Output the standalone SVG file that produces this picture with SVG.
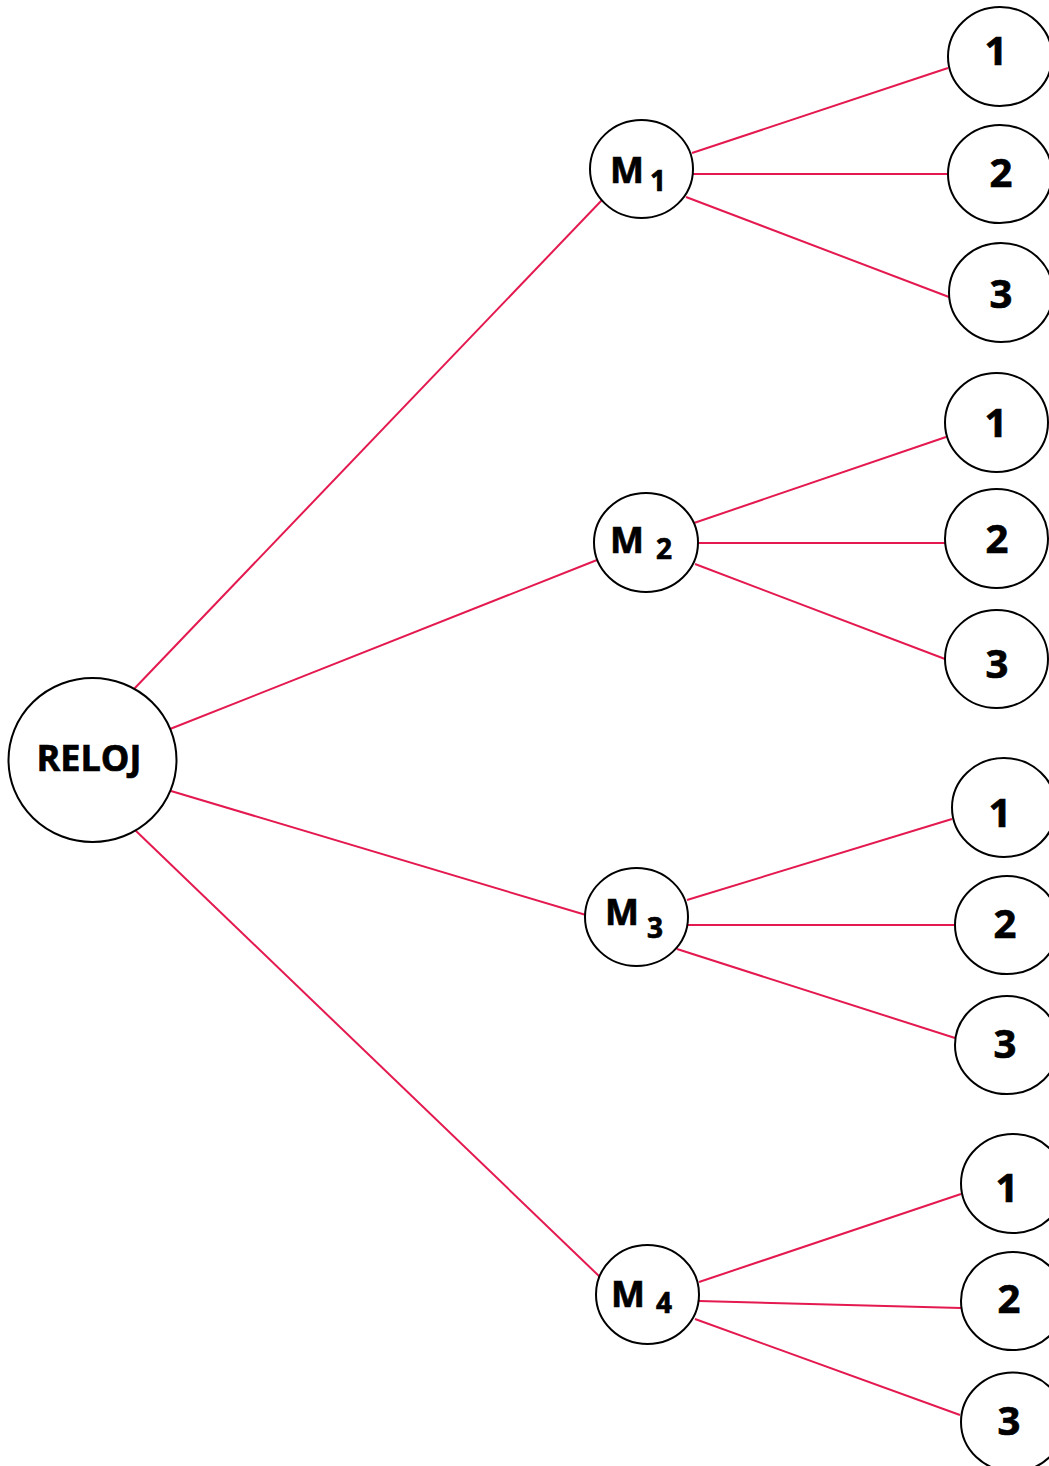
<svg xmlns="http://www.w3.org/2000/svg" width="1049" height="1466" viewBox="0 0 1049 1466">
<style>
.n{fill:#fff;stroke:#000;stroke-width:2}
.t{font-family:"Open Sans","Liberation Sans",sans-serif;font-weight:700;fill:#000;stroke:#000;stroke-width:0.7}
.d{font-size:40px;text-anchor:middle}
.m{font-size:36px}
.s{font-size:28px}
#edges line{stroke:#e3194f;stroke-width:2}
</style>
<rect width="1049" height="1466" fill="#fff"/>
<g id="edges">
<line x1="134" y1="689" x2="602" y2="200"/>
<line x1="170" y1="729" x2="597" y2="560"/>
<line x1="171" y1="791" x2="586" y2="915"/>
<line x1="135" y1="830" x2="600" y2="1277"/>
<line x1="692" y1="153" x2="948" y2="68"/>
<line x1="693" y1="174" x2="948" y2="174"/>
<line x1="686" y1="197" x2="949" y2="297"/>
<line x1="694" y1="523" x2="946" y2="437"/>
<line x1="698" y1="543" x2="945" y2="543"/>
<line x1="695" y1="564" x2="945" y2="659"/>
<line x1="687" y1="900" x2="952" y2="819"/>
<line x1="688" y1="925" x2="955" y2="925"/>
<line x1="677" y1="949" x2="955" y2="1038"/>
<line x1="699" y1="1282" x2="961" y2="1194"/>
<line x1="699" y1="1301" x2="961" y2="1308"/>
<line x1="695" y1="1319" x2="960" y2="1415"/>
</g>
<g id="reloj"><ellipse class="n" cx="92.5" cy="760" rx="84" ry="82"/><text class="t m" x="89" y="771" text-anchor="middle">RELOJ</text></g>
<g id="m1"><ellipse class="n" cx="641.5" cy="169" rx="51.5" ry="49"/><text class="t m" x="610" y="183">M</text><text class="t s" x="650" y="191">1</text></g>
<g id="m2"><ellipse class="n" cx="646" cy="542.5" rx="52" ry="49.5"/><text class="t m" x="610" y="553">M</text><text class="t s" x="656" y="559">2</text></g>
<g id="m3"><ellipse class="n" cx="636.5" cy="917" rx="51.5" ry="49"/><text class="t m" x="605" y="925">M</text><text class="t s" x="647" y="938">3</text></g>
<g id="m4"><ellipse class="n" cx="647.5" cy="1294.5" rx="51.5" ry="49.5"/><text class="t m" x="611" y="1307">M</text><text class="t s" x="656" y="1313">4</text></g>
<g id="m1-1"><ellipse class="n" cx="1000" cy="56.5" rx="52" ry="49.5"/><text class="t d" x="996" y="65">1</text></g>
<g id="m1-2"><ellipse class="n" cx="1000" cy="174" rx="52" ry="49"/><text class="t d" x="1001" y="187">2</text></g>
<g id="m1-3"><ellipse class="n" cx="1001" cy="292.5" rx="52" ry="49.5"/><text class="t d" x="1001" y="308">3</text></g>
<g id="m2-1"><ellipse class="n" cx="996.5" cy="422.5" rx="51.5" ry="49.5"/><text class="t d" x="996" y="437">1</text></g>
<g id="m2-2"><ellipse class="n" cx="996.5" cy="538.5" rx="51.5" ry="49.5"/><text class="t d" x="997" y="553">2</text></g>
<g id="m2-3"><ellipse class="n" cx="996.5" cy="659" rx="51.5" ry="49"/><text class="t d" x="997" y="678">3</text></g>
<g id="m3-1"><ellipse class="n" cx="1004" cy="807.5" rx="52" ry="49.5"/><text class="t d" x="1000" y="827">1</text></g>
<g id="m3-2"><ellipse class="n" cx="1007" cy="925" rx="52" ry="49"/><text class="t d" x="1005" y="938">2</text></g>
<g id="m3-3"><ellipse class="n" cx="1007" cy="1045" rx="52" ry="49"/><text class="t d" x="1005" y="1058">3</text></g>
<g id="m4-1"><ellipse class="n" cx="1013" cy="1183.5" rx="52" ry="49.5"/><text class="t d" x="1007" y="1202">1</text></g>
<g id="m4-2"><ellipse class="n" cx="1013" cy="1301" rx="52" ry="49"/><text class="t d" x="1009" y="1313">2</text></g>
<g id="m4-3"><ellipse class="n" cx="1013" cy="1422" rx="52" ry="49.5"/><text class="t d" x="1009" y="1435">3</text></g>
</svg>
